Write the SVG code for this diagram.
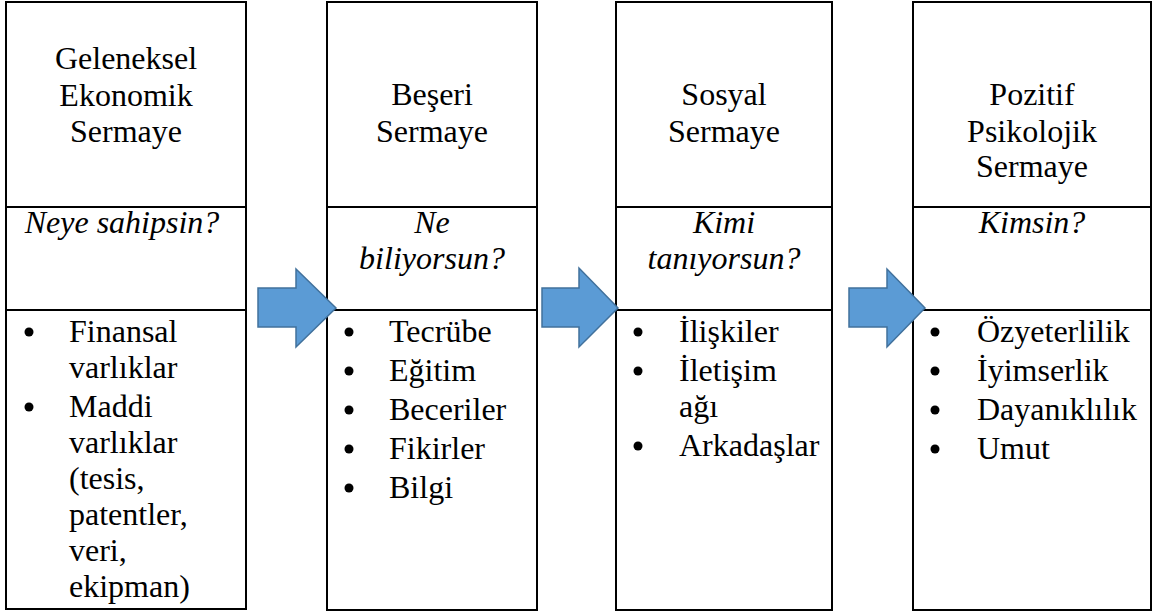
<svg xmlns="http://www.w3.org/2000/svg" width="1155" height="614" viewBox="0 0 1155 614" font-family="Liberation Serif, DejaVu Serif, serif">
<style>
.cell{fill:#fff;stroke:#000;stroke-width:2}
.t{font-size:32px;fill:#000}
.c{text-anchor:middle}
.i{font-style:italic}
.b{fill:#000}
.arr{fill:#5B9BD5;stroke:#41719C;stroke-width:1.5;stroke-linejoin:miter}
</style>
<rect width="1155" height="614" fill="#fff"/>
<g id="col1">
<rect class="cell" x="6" y="2" width="240" height="205"/>
<rect class="cell" x="6" y="207" width="240" height="103"/>
<rect class="cell" x="6" y="310" width="240" height="299"/>
<text class="t c" x="126" y="69">Geleneksel</text>
<text class="t c" x="126" y="106">Ekonomik</text>
<text class="t c" x="126" y="142">Sermaye</text>
<text class="t c i" x="122" y="233">Neye sahipsin?</text>
<circle class="b" cx="29" cy="332" r="4.5"/>
<circle class="b" cx="29" cy="407" r="4.5"/>
<text class="t" x="69" y="342">Finansal</text>
<text class="t" x="69" y="378">varlıklar</text>
<text class="t" x="69" y="417">Maddi</text>
<text class="t" x="69" y="453">varlıklar</text>
<text class="t" x="69" y="489">(tesis,</text>
<text class="t" x="69" y="525">patentler,</text>
<text class="t" x="69" y="561">veri,</text>
<text class="t" x="69" y="597">ekipman)</text>
</g>
<g id="col2">
<rect class="cell" x="327" y="2" width="210" height="205"/>
<rect class="cell" x="327" y="207" width="210" height="103"/>
<rect class="cell" x="327" y="310" width="210" height="300"/>
<text class="t c" x="432" y="105">Beşeri</text>
<text class="t c" x="432" y="142">Sermaye</text>
<text class="t c i" x="432" y="233">Ne</text>
<text class="t c i" x="432" y="269">biliyorsun?</text>
<circle class="b" cx="349" cy="332" r="4.5"/>
<circle class="b" cx="349" cy="371" r="4.5"/>
<circle class="b" cx="349" cy="410" r="4.5"/>
<circle class="b" cx="349" cy="449" r="4.5"/>
<circle class="b" cx="349" cy="488" r="4.5"/>
<text class="t" x="389" y="342">Tecrübe</text>
<text class="t" x="389" y="381">Eğitim</text>
<text class="t" x="389" y="420">Beceriler</text>
<text class="t" x="389" y="459">Fikirler</text>
<text class="t" x="389" y="498">Bilgi</text>
</g>
<g id="col3">
<rect class="cell" x="616" y="2" width="216" height="205"/>
<rect class="cell" x="616" y="207" width="216" height="103"/>
<rect class="cell" x="616" y="310" width="216" height="300"/>
<text class="t c" x="724" y="105">Sosyal</text>
<text class="t c" x="724" y="142">Sermaye</text>
<text class="t c i" x="724" y="233">Kimi</text>
<text class="t c i" x="724" y="269">tanıyorsun?</text>
<circle class="b" cx="638" cy="332" r="4.5"/>
<circle class="b" cx="638" cy="371" r="4.5"/>
<circle class="b" cx="638" cy="446" r="4.5"/>
<text class="t" x="679" y="342">İlişkiler</text>
<text class="t" x="679" y="381">İletişim</text>
<text class="t" x="679" y="417">ağı</text>
<text class="t" x="679" y="456">Arkadaşlar</text>
</g>
<g id="col4">
<rect class="cell" x="913" y="2" width="238" height="205"/>
<rect class="cell" x="913" y="207" width="238" height="103"/>
<rect class="cell" x="913" y="310" width="238" height="300"/>
<text class="t c" x="1032" y="105">Pozitif</text>
<text class="t c" x="1032" y="142">Psikolojik</text>
<text class="t c" x="1032" y="177">Sermaye</text>
<text class="t c i" x="1032" y="233">Kimsin?</text>
<circle class="b" cx="935" cy="332" r="4.5"/>
<circle class="b" cx="935" cy="371" r="4.5"/>
<circle class="b" cx="935" cy="410" r="4.5"/>
<circle class="b" cx="935" cy="449" r="4.5"/>
<text class="t" x="977" y="342">Özyeterlilik</text>
<text class="t" x="977" y="381">İyimserlik</text>
<text class="t" x="977" y="420">Dayanıklılık</text>
<text class="t" x="977" y="459">Umut</text>
</g>
<g id="connectors">
<path class="arr" d="M258,288 H296 V269 L336,308 L296,347 V327 H258 Z"/>
<path class="arr" d="M542,288 H579 V268 L618,308 L579,347 V327 H542 Z"/>
<path class="arr" d="M849,288 H887 V269 L925,308 L887,347 V327 H849 Z"/>
</g>
</svg>
